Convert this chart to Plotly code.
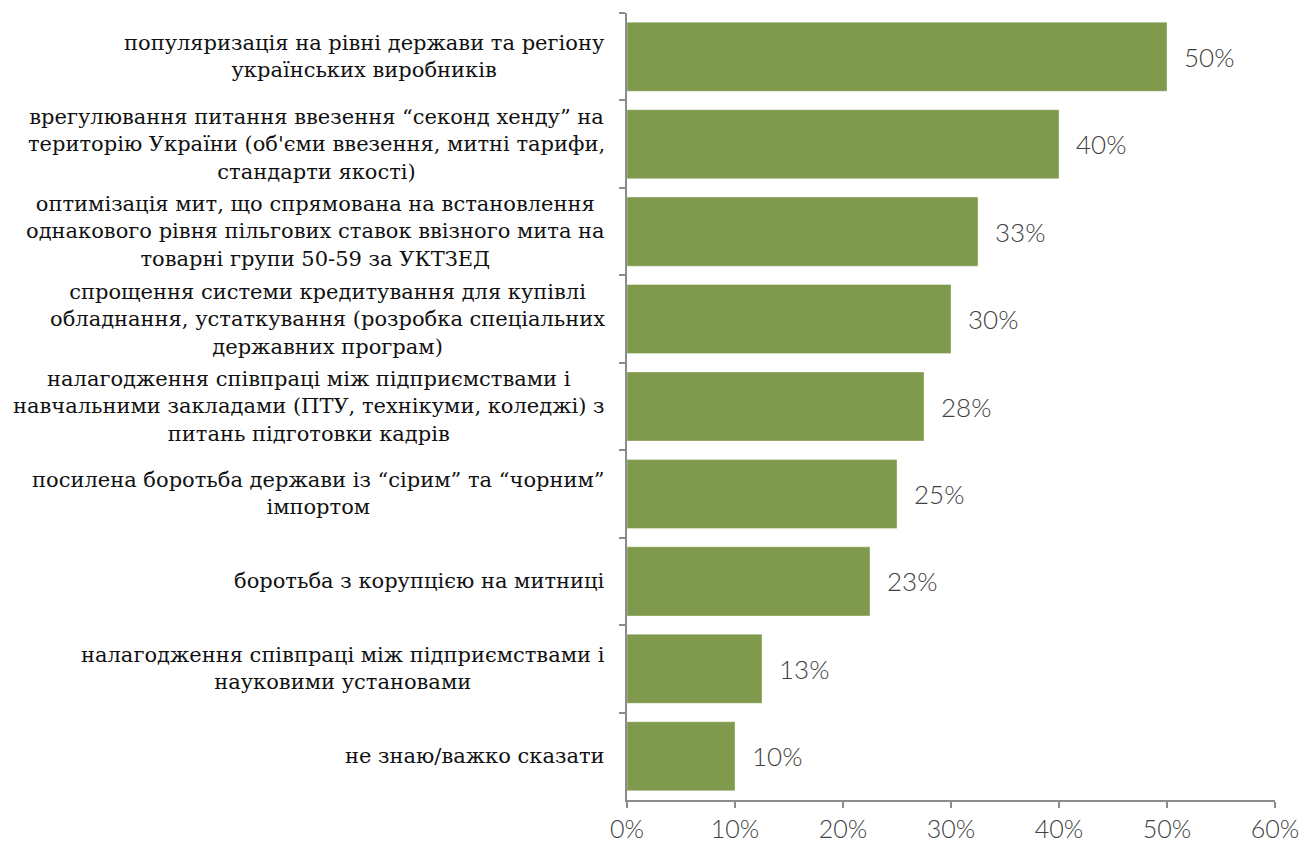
import math
import plotly.graph_objects as go

categories = [
    "популяризація на рівні держави та регіону<br>українських виробників",
    "врегулювання питання ввезення “секонд хенду” на<br>територію України (об'єми ввезення, митні тарифи,<br>стандарти якості)",
    "оптимізація мит, що спрямована на встановлення<br>однакового рівня пільгових ставок ввізного мита на<br>товарні групи 50-59 за УКТЗЕД",
    "спрощення системи кредитування для купівлі<br>обладнання, устаткування (розробка спеціальних<br>державних програм)",
    "налагодження співпраці між підприємствами і<br>навчальними закладами (ПТУ, технікуми, коледжі) з<br>питань підготовки кадрів",
    "посилена боротьба держави із “сірим” та “чорним”<br>імпортом",
    "боротьба з корупцією на митниці",
    "налагодження співпраці між підприємствами і<br>науковими установами",
    "не знаю/важко сказати",
]
values = [50, 40, 32.5, 30, 27.5, 25, 22.5, 12.5, 10]
x_ticks = [0, 10, 20, 30, 40, 50, 60]

BAR = "#7F9A4C"
AXIS = "#8C8C8C"
SERIF = "DejaVu Serif, serif"
SANS = "Lato, Open Sans, sans-serif"

fig = go.Figure(
    go.Bar(
        x=values,
        y=categories,
        orientation="h",
        marker=dict(color=BAR, line=dict(color="rgba(255,255,255,0.35)", width=1)),
        hoverinfo="skip",
    )
)

# category labels, right-aligned to the axis, lines centred within each label
for cat in categories:
    fig.add_annotation(
        x=0, xref="paper", y=cat, yref="y",
        text=cat, showarrow=False,
        xanchor="right", xshift=-20, align="center",
        font=dict(family=SERIF, size=21, color="#111111"),
    )

# value labels beside the bars (half-up rounding: 32.5 -> 33)
for cat, v in zip(categories, values):
    fig.add_annotation(
        x=v, y=cat, xref="x", yref="y",
        text=f"{int(math.floor(v + 0.5))}%",
        showarrow=False, xanchor="left", xshift=15,
        font=dict(family=SANS, size=26, color="#404040", weight=300),
    )

fig.update_layout(
    width=1305, height=845,
    margin=dict(l=627, r=30, t=13, b=45, autoexpand=False),
    paper_bgcolor="white", plot_bgcolor="white",
    bargap=0.21,
    showlegend=False,
    xaxis=dict(
        range=[0, 60], tickvals=x_ticks, ticktext=[f"{t}%" for t in x_ticks],
        showgrid=False, zeroline=False, automargin=False,
        showline=True, linecolor=AXIS, linewidth=1.5,
        ticks="outside", ticklen=6, tickcolor=AXIS, tickwidth=1.5,
        tickfont=dict(family=SANS, size=25, color="#404040", weight=300),
    ),
    yaxis=dict(
        autorange="reversed", showticklabels=False, automargin=False,
        showgrid=False, zeroline=False,
        showline=True, linecolor=AXIS, linewidth=1.5,
        ticks="outside", tickson="boundaries", ticklen=6,
        tickcolor=AXIS, tickwidth=1.5,
    ),
)

fig.write_html("out.html")
